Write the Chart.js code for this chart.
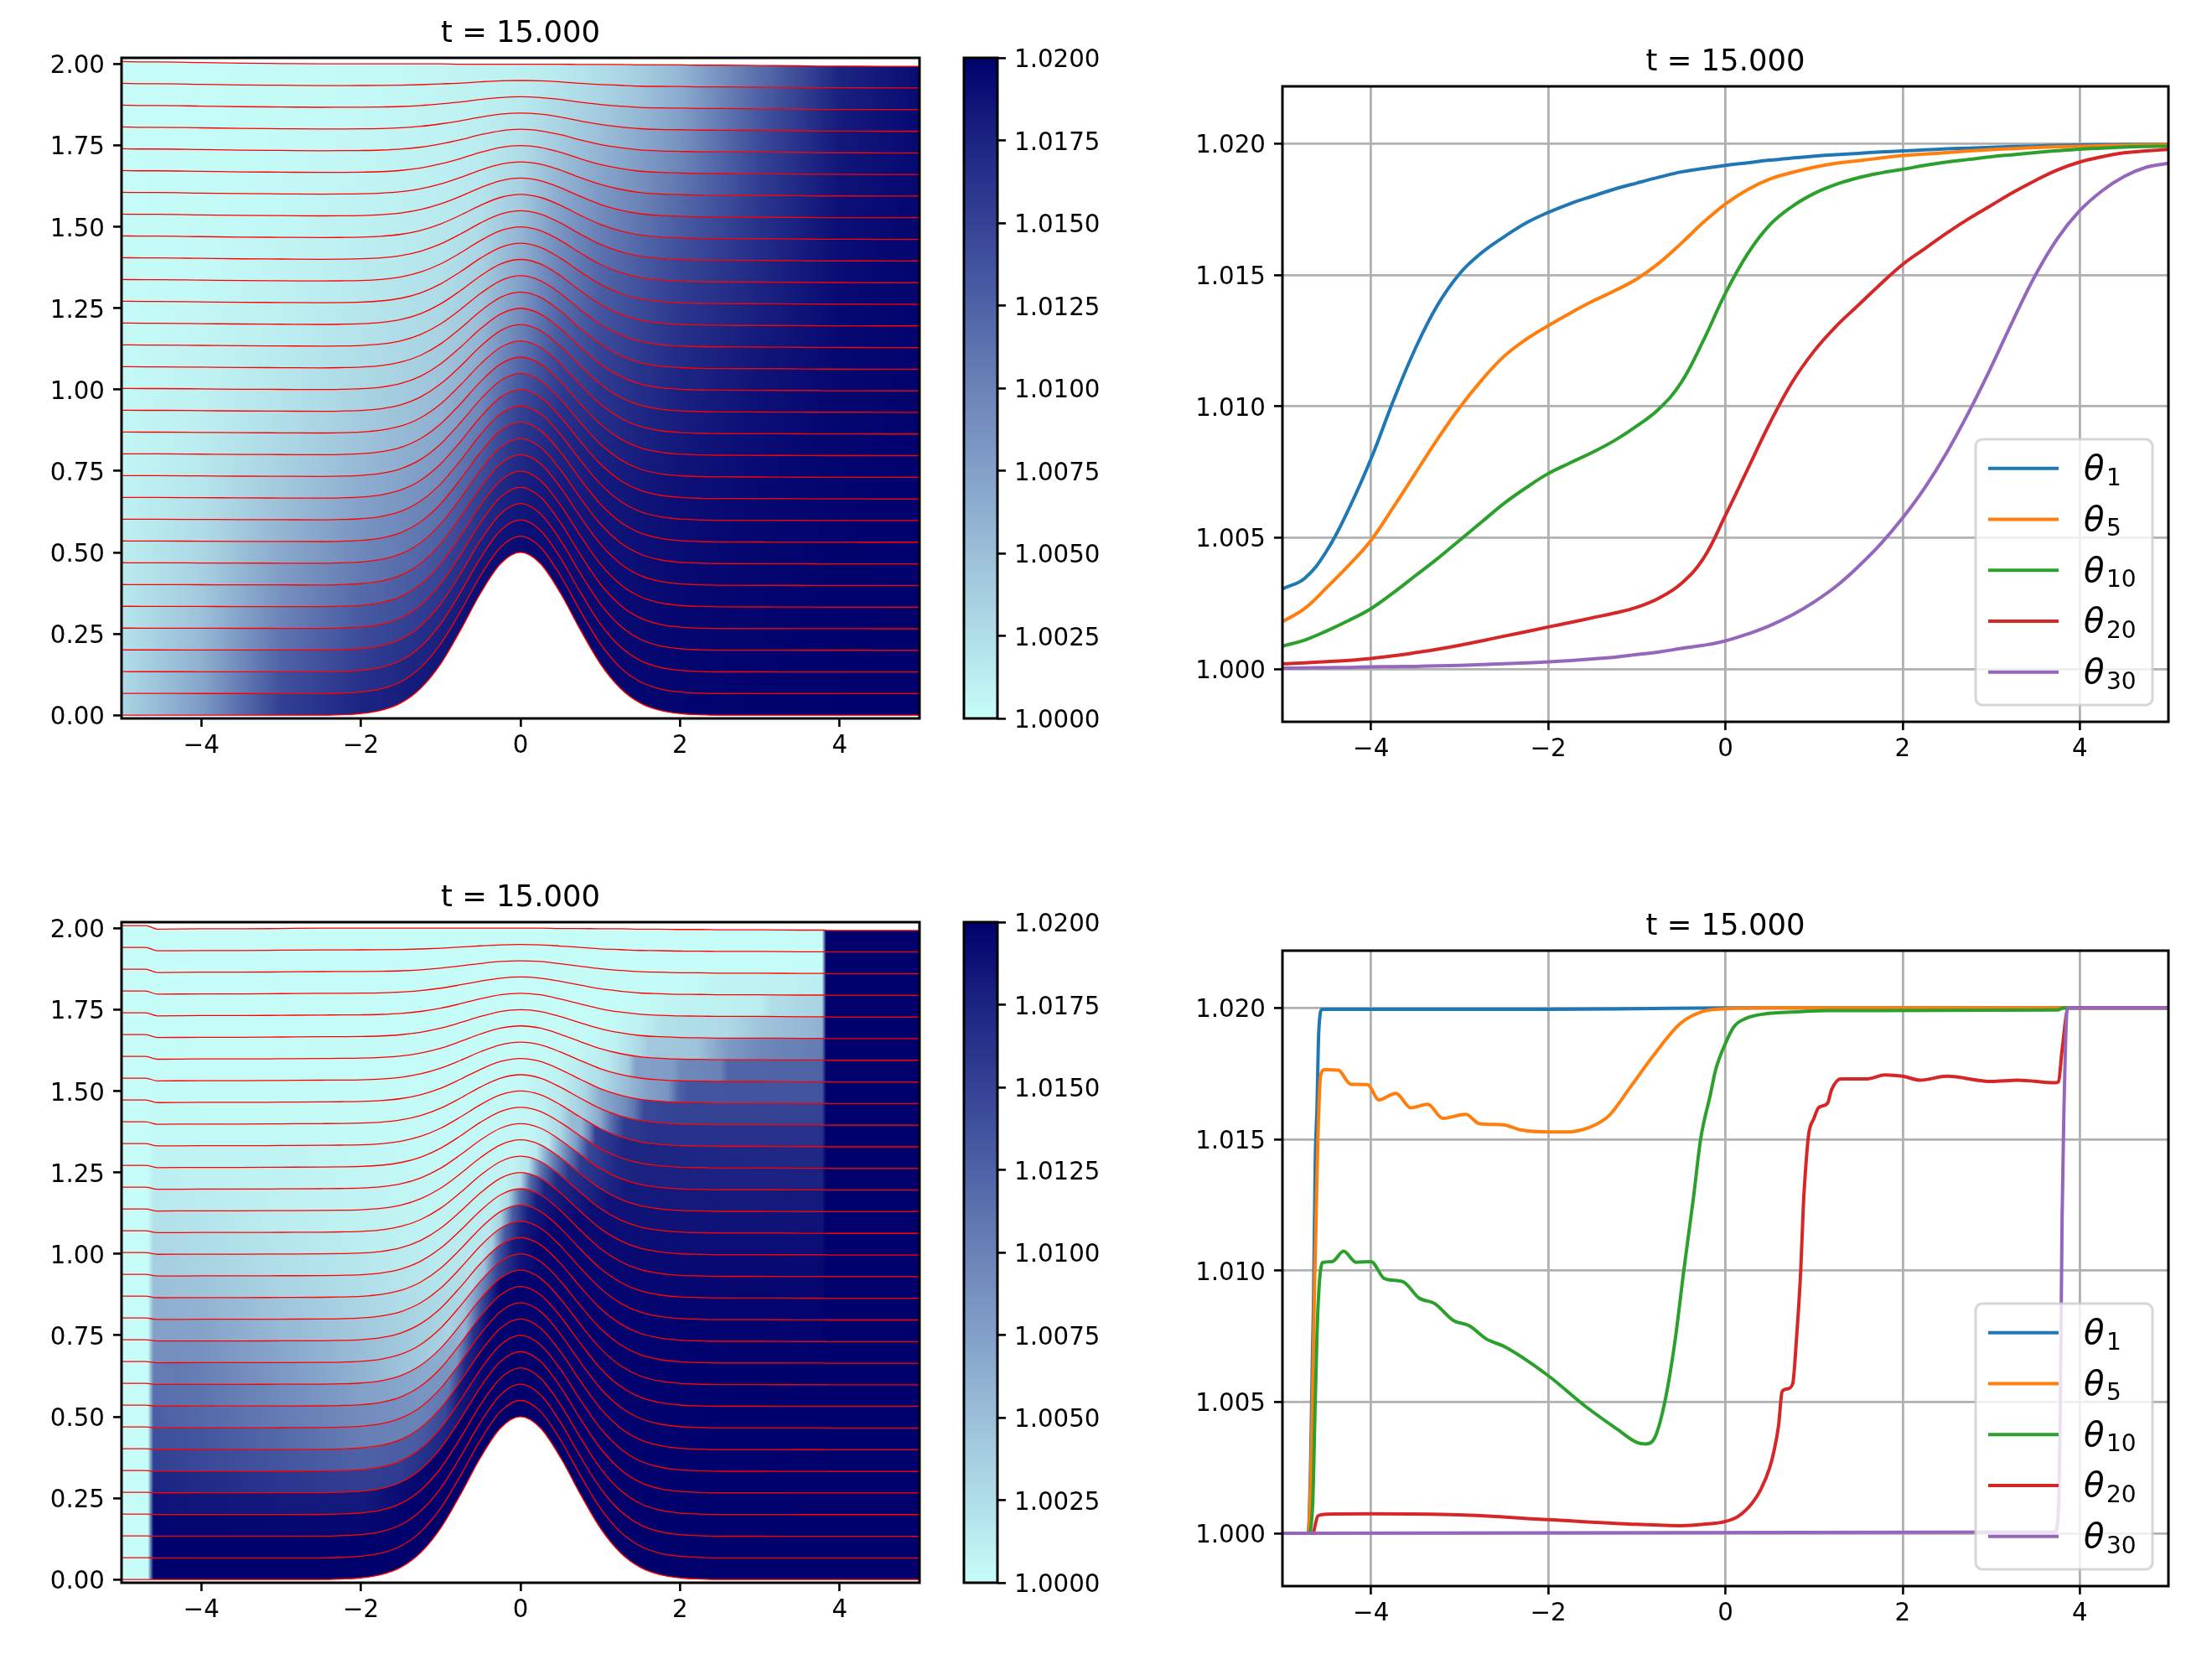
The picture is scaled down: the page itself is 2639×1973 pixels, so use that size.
<!DOCTYPE html>
<html>
<head>
<meta charset="utf-8">
<title>t = 15.000</title>
<script src="https://cdn.jsdelivr.net/npm/chart.js@4"></script>
<style>
  body { margin: 0; background: #fff; width: 2639px; height: 1973px; overflow: hidden; position: relative; }
  canvas { position: absolute; }
</style>
</head>
<body>
<script>
// all theta values below are (theta - 1) in units of 0.001

const titleText = "t = 15.000";
const xTicks = [-4, -2, 0, 2, 4];
const meshTicks = [0, 0.25, 0.5, 0.75, 1, 1.25, 1.5, 1.75, 2];
const thetaTicks = [1, 1.005, 1.01, 1.015, 1.02];
const colorbarTicks = [1, 1.0025, 1.005, 1.0075, 1.01, 1.0125, 1.015, 1.0175, 1.02];
const layerCount = 30;
const legendLayers = ["1", "5", "10", "20", "30"];
const curveColors = ["#1f77b4", "#ff7f0e", "#2ca02c", "#d62728", "#9467bd"];

// colormap, theta value then r, g, b
const cmapValues = [0, 2.5, 5, 7.5, 10, 12.5, 15, 17.5, 20];
const cmapColors = [
  [198, 253, 248], [176, 222, 232], [155, 191, 216], [130, 160, 200], [106, 131, 183],
  [78, 98, 166], [52, 66, 148], [28, 36, 130], [0, 0, 108]
];

// mesh
const meshX = [-5, -4.7, -4.55, -4, -3.5, -3, -2.5, -2.25, -2, -1.75, -1.5, -1.25, -1, -0.75, -0.5, -0.25, 0,
  0.25, 0.5, 0.75, 1, 1.25, 1.5, 1.75, 2, 2.25, 2.5, 3, 3.5, 3.8, 3.85, 4, 4.5, 5];
const bottomBump = [0, 0, 0, 0, 0, 0, 0, 0.0015, 0.005, 0.0148, 0.0375, 0.083, 0.158, 0.262, 0.375, 0.465, 0.5,
  0.465, 0.375, 0.262, 0.158, 0.083, 0.0375, 0.0148, 0.005, 0.0015, 0, 0, 0, 0, 0, 0, 0, 0];
const surfaceTop = [2.007, 2.006, 2.006, 2.004, 2.002, 2.001, 2, 2, 2, 2, 2, 2, 2, 1.999, 1.999, 1.999, 1.999,
  1.999, 1.999, 1.998, 1.998, 1.998, 1.997, 1.997, 1.997, 1.996, 1.996, 1.995, 1.994, 1.993, 1.993, 1.993, 1.9925, 1.9925];
const surfaceBottom = [2.008, 2.008, 1.997, 1.998, 1.998, 1.999, 2, 2, 2, 2, 2, 2, 2, 2, 2, 2, 2,
  2, 1.999, 1.999, 1.998, 1.998, 1.997, 1.997, 1.996, 1.996, 1.995, 1.995, 1.994, 1.994, 1.993, 1.993, 1.993, 1.993];

// upper heat map, one row per layer from the bottom up
const heatXTop = [-5, -4, -3, -2, -1, -0.5, 0, 0.5, 1, 1.5, 2, 3, 4, 5];
const heatTop = [
  [3.1, 8, 15.2, 17.4, 18.5, 18.9, 19.2, 19.4, 19.5, 19.6, 19.7, 19.85, 19.93, 19.97],
  [2.7, 7, 13.8, 16.4, 17.8, 18.3, 18.8, 19.2, 19.4, 19.5, 19.65, 19.8, 19.9, 19.97],
  [2.4, 6.2, 12.4, 15.3, 17, 17.7, 18.4, 19, 19.3, 19.4, 19.6, 19.8, 19.9, 19.96],
  [2.1, 5.5, 11.1, 14.2, 15.9, 17, 18, 18.8, 19.2, 19.4, 19.55, 19.75, 19.9, 19.95],
  [1.8, 4.8, 9.9, 13.1, 14.8, 16.2, 17.7, 18.65, 19.1, 19.3, 19.55, 19.75, 19.9, 19.95],
  [1.6, 4.2, 8.8, 11.9, 13.7, 15.2, 17.1, 18.3, 18.9, 19.2, 19.4, 19.7, 19.88, 19.94],
  [1.4, 3.6, 7.8, 10.7, 12.6, 14.1, 16.5, 18, 18.7, 19, 19.3, 19.65, 19.86, 19.93],
  [1.2, 3.1, 6.8, 9.6, 11.4, 13, 15.8, 17.6, 18.5, 18.9, 19.2, 19.6, 19.84, 19.92],
  [1, 2.7, 5.8, 8.5, 10.3, 11.9, 15.1, 17.3, 18.3, 18.7, 19.1, 19.55, 19.82, 19.91],
  [0.87, 2.27, 4.9, 7.44, 9.2, 10.7, 14.3, 16.9, 18.1, 18.6, 19, 19.5, 19.8, 19.9],
  [0.7, 1.9, 4.2, 6.4, 8.1, 9.6, 13.3, 16.3, 17.7, 18.3, 18.8, 19.4, 19.75, 19.9],
  [0.6, 1.6, 3.5, 5.5, 7.1, 8.5, 12.2, 15.6, 17.2, 18, 18.6, 19.3, 19.7, 19.88],
  [0.5, 1.35, 3, 4.7, 6.2, 7.5, 11.2, 14.9, 16.7, 17.6, 18.3, 19.2, 19.65, 19.87],
  [0.45, 1.1, 2.5, 4, 5.4, 6.6, 10.1, 14.1, 16.1, 17.2, 18, 19, 19.6, 19.86],
  [0.4, 0.95, 2.1, 3.4, 4.7, 5.8, 9.2, 13.3, 15.5, 16.7, 17.7, 18.9, 19.55, 19.85],
  [0.35, 0.8, 1.8, 2.9, 4, 5.1, 8.3, 12.5, 14.9, 16.2, 17.3, 18.7, 19.5, 19.84],
  [0.3, 0.7, 1.5, 2.5, 3.5, 4.5, 7.5, 11.6, 14.2, 15.6, 16.9, 18.5, 19.45, 19.82],
  [0.27, 0.6, 1.25, 2.1, 3.1, 4, 6.9, 10.8, 13.5, 15, 16.4, 18.2, 19.4, 19.8],
  [0.23, 0.5, 1.05, 1.85, 2.7, 3.6, 6.3, 10.1, 12.9, 14.4, 15.9, 17.9, 19.35, 19.78],
  [0.2, 0.4, 0.9, 1.6, 2.35, 3.2, 5.85, 9.35, 12.2, 13.8, 15.4, 17.5, 19.3, 19.75],
  [0.17, 0.35, 0.75, 1.35, 2.05, 2.8, 5, 8.5, 11.3, 13, 14.7, 17.2, 19.2, 19.7],
  [0.14, 0.3, 0.62, 1.15, 1.75, 2.4, 4.2, 7.6, 10.3, 12.1, 13.9, 16.8, 19.1, 19.65],
  [0.12, 0.25, 0.52, 0.95, 1.5, 2.05, 3.6, 6.7, 9.2, 11.1, 13, 16.4, 19, 19.6],
  [0.1, 0.2, 0.44, 0.8, 1.3, 1.75, 3.1, 5.8, 8.1, 10, 12, 15.9, 18.9, 19.55],
  [0.09, 0.17, 0.37, 0.68, 1.15, 1.55, 2.6, 4.9, 7, 8.9, 10.9, 15.4, 18.7, 19.5],
  [0.07, 0.14, 0.3, 0.58, 1, 1.4, 2.2, 4.1, 5.9, 7.8, 9.8, 14.9, 18.5, 19.45],
  [0.06, 0.12, 0.25, 0.47, 0.85, 1.2, 1.85, 3.4, 4.9, 6.7, 8.7, 14.3, 18.3, 19.4],
  [0.05, 0.1, 0.2, 0.38, 0.72, 1.05, 1.55, 2.8, 4, 5.6, 7.6, 13.5, 18.1, 19.35],
  [0.04, 0.09, 0.17, 0.32, 0.62, 0.9, 1.3, 2.1, 3.2, 4.6, 6.6, 12.6, 17.8, 19.3],
  [0.03, 0.08, 0.14, 0.27, 0.55, 0.8, 1.07, 1.6, 2.5, 3.8, 5.7, 11.6, 17.45, 19.2]
];

// lower heat map, [x, theta] breakpoints per layer between the two fronts
const heatFrontLeft = [[-5, 0], [-4.67, 0]];
const heatFrontRight = [[3.83, 20], [5, 20]];
const heatBottom = [
  [[-4.6, 20], [3.78, 20]],
  [[-4.6, 19.9], [3.78, 20]],
  [[-4.6, 19.6], [-2, 19.4], [-1.3, 20], [3.78, 20]],
  [[-4.6, 18.6], [-3, 18.3], [-2, 18.2], [-1.3, 19.5], [-0.9, 20], [3.78, 20]],
  [[-4.6, 17.4], [-4.2, 17.1], [-3.7, 16.7], [-3, 15.9], [-2, 15.3], [-1.5, 15.5], [-1, 17.2], [-0.5, 19.4], [-0.2, 19.9], [3.78, 20]],
  [[-4.6, 15.2], [-4, 14.5], [-3, 13.5], [-2, 12.5], [-1.3, 13], [-0.95, 14.5], [-0.75, 18.5], [-0.5, 19.8], [3.78, 20]],
  [[-4.6, 14], [-4, 13.5], [-3, 12], [-2, 10.3], [-1.3, 10], [-0.9, 11], [-0.7, 17], [-0.4, 19.8], [3.78, 20]],
  [[-4.6, 12.8], [-4, 12], [-3, 10.5], [-2, 9.2], [-1.2, 8.5], [-0.8, 8.5], [-0.6, 16], [-0.35, 19.8], [3.78, 20]],
  [[-4.6, 11.5], [-4, 11.2], [-3, 9.3], [-2, 7.5], [-1, 6.5], [-0.7, 6], [-0.5, 14], [-0.25, 19.7], [3.78, 20]],
  [[-4.6, 10.4], [-4.3, 10.7], [-4, 10.3], [-3.3, 8.8], [-2.5, 7.1], [-2, 6], [-1.2, 4], [-0.9, 3.4], [-0.7, 4.5], [-0.45, 10.5], [-0.28, 15], [0, 18.6], [0.23, 19.6], [1, 19.9], [3.78, 19.95]],
  [[-4.6, 9], [-4, 8.8], [-3, 7], [-2, 5.2], [-1, 3.4], [-0.6, 2.8], [-0.45, 5], [-0.3, 13], [-0.1, 18], [0.2, 19.7], [3.78, 19.9]],
  [[-4.6, 7.5], [-4, 7.3], [-3, 5.5], [-2, 4.2], [-1, 2.8], [-0.5, 2], [-0.35, 4], [-0.2, 13], [0, 18], [0.3, 19.7], [3.78, 19.8]],
  [[-4.6, 6.3], [-4, 6], [-3, 4.5], [-2, 3.2], [-1, 2], [-0.4, 1.6], [-0.25, 3.5], [-0.1, 13], [0.1, 18], [0.4, 19.6], [3.78, 19.7]],
  [[-4.6, 5], [-4, 4.6], [-3, 3.3], [-2, 2.4], [-1, 1.5], [-0.3, 1.2], [-0.15, 3], [0, 12], [0.2, 18], [0.5, 19.5], [3.78, 19.5]],
  [[-4.6, 3.8], [-4, 3.4], [-3, 2.4], [-2, 1.8], [-1, 1.1], [-0.2, 0.9], [0, 2.5], [0.12, 12], [0.3, 17.5], [0.7, 19.3], [3.78, 19.3]],
  [[-4.6, 3], [-4, 2.7], [-3, 1.9], [-2, 1.2], [-1, 0.8], [-0.1, 0.7], [0.1, 2], [0.25, 11], [0.45, 17], [0.9, 19], [3.78, 19]],
  [[-4.6, 2.3], [-4, 2], [-3, 1.3], [-2, 0.9], [-1, 0.6], [0, 0.5], [0.2, 1.5], [0.4, 10], [0.6, 16], [1.1, 18.7], [3.78, 18.7]],
  [[-4.6, 1.6], [-4, 1.4], [-3, 1], [-2, 0.7], [-1, 0.45], [0.1, 0.5], [0.35, 1.5], [0.55, 9], [0.75, 15.5], [1.3, 18.2], [3.78, 18.2]],
  [[-4.6, 1.1], [-4, 1], [-3, 0.8], [-2, 0.6], [-1, 0.35], [0.2, 0.6], [0.5, 3], [0.7, 8], [0.85, 14.5], [1.2, 17.2], [1.6, 17.7], [3.78, 17.7]],
  [[-4.6, 0.66], [-4, 0.74], [-3, 0.7], [-2, 0.52], [-1, 0.34], [-0.5, 0.29], [0, 0.45], [0.3, 1.14], [0.5, 2.5], [0.64, 5.4], [0.76, 5.7], [0.86, 10], [0.94, 15.2], [1.15, 16.4], [1.3, 17.3], [1.8, 17.45], [3, 17.2], [3.78, 17.15]],
  [[-4.6, 0.4], [-3, 0.4], [-2, 0.3], [-0.5, 0.2], [0, 0.3], [0.5, 1.5], [0.8, 4], [1, 7], [1.15, 12], [1.3, 15.5], [1.6, 16.3], [3.78, 16.3]],
  [[-4.6, 0.25], [-2, 0.2], [0, 0.2], [0.5, 0.9], [0.8, 3], [1, 6.5], [1.3, 9], [1.42, 11], [1.55, 14.5], [2, 15], [3.78, 15]],
  [[-4.6, 0.15], [0, 0.1], [0.5, 0.5], [1, 2.5], [1.3, 5], [1.6, 7.5], [1.85, 8.5], [1.98, 12.5], [2.1, 13.5], [3.78, 13.7]],
  [[-4.6, 0.1], [0, 0.05], [0.7, 0.4], [1.1, 1.5], [1.35, 4], [1.45, 7.5], [1.9, 7.8], [2, 9.5], [2.5, 10], [2.6, 12.3], [3.78, 12.5]],
  [[-4.6, 0.05], [0.8, 0.2], [1.2, 1], [1.5, 3], [1.6, 4.2], [2.2, 4.6], [2.6, 8], [3, 9.5], [3.3, 10], [3.78, 10.5]],
  [[-4.6, 0], [1, 0.1], [1.5, 1], [1.8, 2.3], [2.6, 2.8], [3, 4.5], [3.5, 5.5], [3.78, 6]],
  [[-4.6, 0], [1.3, 0.1], [2, 0.8], [3, 1.2], [3.15, 2.5], [3.5, 3], [3.78, 3.3]],
  [[-4.6, 0], [2, 0.2], [2.55, 0.8], [3.3, 1], [3.78, 1.2]],
  [[-4.6, 0], [3.78, 0.05]],
  [[-4.6, 0], [3.78, 0]]
];

// upper right curves, one value every 0.25 in x
const curveXTop = [-5, -4.75, -4.5, -4.25, -4, -3.75, -3.5, -3.25, -3, -2.75, -2.5, -2.25, -2, -1.75, -1.5, -1.25, -1, -0.75, -0.5, -0.25,
  0, 0.25, 0.5, 0.75, 1, 1.25, 1.5, 1.75, 2, 2.25, 2.5, 2.75, 3, 3.25, 3.5, 3.75, 4, 4.25, 4.5, 4.75, 5];
const theta1Top = [3.05, 3.45, 4.5, 6.1, 8, 10.2, 12.2, 13.85, 15.05, 15.85, 16.45, 16.98, 17.38, 17.72, 18, 18.27, 18.5, 18.72, 18.92, 19.05,
  19.17, 19.27, 19.37, 19.45, 19.52, 19.58, 19.63, 19.68, 19.72, 19.76, 19.8, 19.83, 19.86, 19.89, 19.91, 19.93, 19.95, 19.96, 19.97, 19.97, 19.98];
const theta5Top = [1.8, 2.3, 3.1, 3.95, 4.9, 6.15, 7.45, 8.75, 9.95, 11, 11.9, 12.55, 13.07, 13.55, 14, 14.4, 14.85, 15.45, 16.2, 17,
  17.7, 18.25, 18.65, 18.9, 19.1, 19.25, 19.35, 19.45, 19.55, 19.6, 19.66, 19.72, 19.77, 19.81, 19.85, 19.88, 19.9, 19.92, 19.94, 19.95, 19.97];
const theta10Top = [0.87, 1.1, 1.45, 1.85, 2.3, 2.9, 3.55, 4.2, 4.9, 5.6, 6.3, 6.9, 7.44, 7.85, 8.25, 8.7, 9.25, 9.9, 10.9, 12.5,
  14.3, 15.8, 16.9, 17.6, 18.1, 18.45, 18.7, 18.88, 19.02, 19.17, 19.3, 19.4, 19.5, 19.58, 19.66, 19.73, 19.79, 19.83, 19.87, 19.89, 19.9];
const theta20Top = [0.2, 0.23, 0.28, 0.33, 0.4, 0.5, 0.62, 0.75, 0.9, 1.07, 1.25, 1.42, 1.6, 1.77, 1.95, 2.13, 2.35, 2.7, 3.25, 4.2,
  5.85, 7.6, 9.35, 10.9, 12.1, 13.05, 13.85, 14.65, 15.4, 16, 16.6, 17.15, 17.65, 18.15, 18.6, 19, 19.3, 19.5, 19.65, 19.72, 19.78];
const theta30Top = [0.03, 0.04, 0.05, 0.06, 0.08, 0.09, 0.1, 0.12, 0.14, 0.17, 0.2, 0.23, 0.27, 0.32, 0.38, 0.45, 0.55, 0.65, 0.78, 0.9,
  1.07, 1.33, 1.65, 2.05, 2.55, 3.15, 3.9, 4.75, 5.75, 6.9, 8.25, 9.8, 11.5, 13.3, 15, 16.4, 17.45, 18.2, 18.75, 19.1, 19.25];

// lower right curves, [x, theta]
const theta1Bottom = [[-5, 0], [-4.71, 0], [-4.68, 3], [-4.66, 7.1], [-4.65, 8.6], [-4.63, 14.1], [-4.61, 16.2], [-4.59, 19.1], [-4.55, 19.95], [-2, 19.95], [-1, 19.97], [0, 20], [5, 20]];
const theta5Bottom = [[-5, 0], [-4.71, 0], [-4.67, 3.5], [-4.64, 9], [-4.62, 12], [-4.6, 15], [-4.57, 17.4], [-4.525, 17.65], [-4.37, 17.63], [-4.23, 17.1], [-4.04, 17.08], [-3.91, 16.5], [-3.72, 16.75], [-3.55, 16.2], [-3.36, 16.33], [-3.19, 15.8], [-2.93, 15.95], [-2.78, 15.6], [-2.51, 15.55], [-2.3, 15.35], [-2, 15.28], [-1.79, 15.28], [-1.53, 15.46], [-1.32, 15.88], [-1.07, 17], [-0.81, 18.2], [-0.51, 19.4], [-0.26, 19.86], [0, 19.97], [0.5, 20], [5, 20]];
const theta10Bottom = [[-5, 0], [-4.71, 0], [-4.66, 1], [-4.63, 5], [-4.6, 8.5], [-4.55, 10.3], [-4.44, 10.34], [-4.31, 10.74], [-4.17, 10.32], [-4, 10.34], [-3.85, 9.7], [-3.64, 9.58], [-3.46, 8.96], [-3.28, 8.74], [-3.07, 8.1], [-2.89, 7.9], [-2.7, 7.4], [-2.49, 7.1], [-2, 6], [-1.59, 4.86], [-1.22, 3.96], [-1, 3.46], [-0.9, 3.4], [-0.79, 3.7], [-0.68, 5.07], [-0.57, 7.3], [-0.47, 10], [-0.36, 12.8], [-0.28, 15], [-0.17, 16.7], [-0.11, 17.65], [0, 18.65], [0.1, 19.3], [0.23, 19.6], [0.44, 19.77], [0.86, 19.86], [1.15, 19.9], [3.75, 19.92], [3.82, 20], [5, 20]];
const theta20Bottom = [[-5, 0], [-4.66, 0], [-4.6, 0.66], [-4.5, 0.73], [-4, 0.74], [-3, 0.7], [-2, 0.52], [-1, 0.34], [-0.5, 0.29], [-0.25, 0.34], [0, 0.45], [0.15, 0.66], [0.3, 1.14], [0.4, 1.67], [0.5, 2.5], [0.55, 3.16], [0.6, 4.1], [0.64, 5.4], [0.7, 5.5], [0.76, 5.7], [0.8, 7.3], [0.85, 10], [0.88, 12.5], [0.91, 14.1], [0.94, 15.2], [1, 15.8], [1.05, 16.2], [1.15, 16.36], [1.2, 16.9], [1.3, 17.3], [1.6, 17.3], [1.8, 17.45], [2, 17.4], [2.2, 17.25], [2.5, 17.4], [3, 17.2], [3.3, 17.25], [3.72, 17.15], [3.76, 17.2], [3.8, 18.4], [3.87, 20], [5, 20]];
const theta30Bottom = [[-5, 0], [3.72, 0.05], [3.76, 1], [3.78, 5], [3.8, 12], [3.82, 16], [3.86, 20], [5, 20]];

const FONT = "'DejaVu Sans'";
const TICK_SIZE = 29.3;
const TICK_LEN = 10;
const TITLE_SIZE = 35.4;
const TITLE_GAP = 7;
const TITLE_ROOM = TITLE_SIZE * 1.2 + TITLE_GAP;
const MARGIN = 140; // room around each axes box inside its canvas
Chart.defaults.font.family = FONT;
Chart.defaults.color = "#000";

function thetaColor(v) {
  let i = 0;
  while (i < cmapValues.length - 2 && v > cmapValues[i + 1]) i++;
  const t = Math.min(1, Math.max(0, (v - cmapValues[i]) / (cmapValues[i + 1] - cmapValues[i])));
  const c = cmapColors[i].map((a, j) => Math.round(a + (cmapColors[i + 1][j] - a) * t));
  return `rgb(${c[0]},${c[1]},${c[2]})`;
}

// box around the axes and the legend, both on top of the data
const framePlugin = {
  id: "frame",
  afterDatasetsDraw(chart) {
    const { left, top, width, height, right, bottom } = chart.chartArea;
    const ctx = chart.ctx;
    ctx.save();
    const legend = chart.options.plugins.frame.legend;
    if (legend) {
      const bx = right - 230, by = bottom - 337, bw = 211, bh = 317;
      ctx.beginPath();
      ctx.roundRect(bx, by, bw, bh, 8);
      ctx.fillStyle = "rgba(255,255,255,0.8)";
      ctx.fill();
      ctx.lineWidth = 3;
      ctx.strokeStyle = "rgba(204,204,204,0.8)";
      ctx.stroke();
      legendLayers.forEach((label, i) => {
        const y = by + 34.7 + i * 60.75;
        ctx.strokeStyle = curveColors[i];
        ctx.lineWidth = 4;
        ctx.beginPath();
        ctx.moveTo(bx + 15, y);
        ctx.lineTo(bx + 99, y);
        ctx.stroke();
        ctx.fillStyle = "#000";
        ctx.textBaseline = "alphabetic";
        ctx.textAlign = "left";
        ctx.font = `italic 40px ${FONT}`;
        ctx.fillText("θ", bx + 129, y + 13.5);
        ctx.font = `28px ${FONT}`;
        ctx.fillText(label, bx + 156, y + 20);
      });
    }
    ctx.lineWidth = 3;
    ctx.strokeStyle = "#000";
    ctx.strokeRect(left, top, width, height);
    ctx.restore();
  }
};

function addCanvas(box) {
  const c = document.createElement("canvas");
  c.width = box.right - box.left + MARGIN * 2;
  c.height = box.bottom - box.top + MARGIN * 2;
  c.style.left = (box.left - MARGIN) + "px";
  c.style.top = (box.top - MARGIN) + "px";
  c.style.width = c.width + "px";
  c.style.height = c.height + "px";
  document.body.appendChild(c);
  return c;
}

function tickValues(list) {
  return scale => { scale.ticks = list.map(v => ({ value: v })); };
}

function xAxis(gridOn) {
  return {
    type: "linear", min: -5, max: 5,
    afterBuildTicks: tickValues(xTicks),
    afterFit: s => { s.height = MARGIN; },
    grid: {
      drawOnChartArea: gridOn, color: "#b0b0b0", lineWidth: 2.8,
      tickColor: "#000", tickWidth: 2.6, tickLength: TICK_LEN
    },
    border: { display: false },
    ticks: {
      autoSkip: false, maxRotation: 0, padding: 6,
      font: { size: TICK_SIZE },
      callback: v => String(v).replace("-", "\u2212")
    }
  };
}

function yAxis(min, max, list, digits, gridOn, position) {
  return {
    type: "linear", min, max, position: position || "left",
    afterBuildTicks: tickValues(list),
    afterFit: s => { s.width = MARGIN; },
    grid: {
      drawOnChartArea: gridOn, color: "#b0b0b0", lineWidth: 2.8,
      tickColor: "#000", tickWidth: 2.6, tickLength: TICK_LEN
    },
    border: { display: false },
    ticks: {
      autoSkip: false, padding: 10,
      // the empty first line with a small line height centres the digits on the tick
      font: { size: TICK_SIZE, lineHeight: 0.24 },
      callback: v => ["", v.toFixed(digits)]
    }
  };
}

function titleOptions() {
  return {
    display: true, text: titleText, color: "#000", fullSize: false,
    font: { size: TITLE_SIZE, weight: "normal", lineHeight: 1.2 },
    padding: { top: 0, bottom: TITLE_GAP }
  };
}

function meshChart(box, surface, bandColor) {
  const datasets = [];
  for (let k = 0; k <= layerCount; k++) {
    datasets.push({
      data: meshX.map((x, i) => ({ x, y: bottomBump[i] + (surface[i] - bottomBump[i]) * k / layerCount })),
      borderColor: "#ff0000",
      borderWidth: 1.3,
      pointRadius: 0,
      cubicInterpolationMode: "monotone",
      fill: k === 0 ? false : "-1",
      backgroundColor: k === 0 ? "transparent" : ctx => bandColor(ctx.chart, k - 1)
    });
  }
  new Chart(addCanvas(box), {
    type: "line",
    data: { datasets },
    plugins: [framePlugin],
    options: {
      responsive: false, animation: false, devicePixelRatio: 1,
      layout: { padding: { top: MARGIN - TITLE_ROOM, right: MARGIN } },
      plugins: { legend: { display: false }, tooltip: { enabled: false }, title: titleOptions(), frame: {} },
      scales: { x: xAxis(false), y: yAxis(-0.0098, 2.0185, meshTicks, 2, false) }
    }
  });
}

// one horizontal gradient per layer, cached per chart; the scales have no size
// until the first layout has run, so nothing is cached before that
function gradientMaker(stopsForLayer) {
  const cache = new Map();
  return (chart, layer) => {
    if (cache.has(layer)) return cache.get(layer);
    if (!chart.chartArea) return "transparent";
    const xs = chart.scales.x;
    const x0 = xs.getPixelForValue(-5), x1 = xs.getPixelForValue(5);
    if (!isFinite(x0) || !isFinite(x1)) return "transparent";
    const g = chart.ctx.createLinearGradient(x0, 0, x1, 0);
    stopsForLayer(layer).forEach(([x, v]) => g.addColorStop((x + 5) / 10, thetaColor(v)));
    cache.set(layer, g);
    return g;
  };
}

function curveChart(box, series, shape) {
  new Chart(addCanvas(box), {
    type: "line",
    data: {
      datasets: series.map((points, i) => ({
        label: "θ" + legendLayers[i],
        data: points.map(([x, v]) => ({ x, y: 1 + v / 1000 })),
        borderColor: curveColors[i],
        borderWidth: 4,
        pointRadius: 0,
        order: series.length - i,
        ...shape
      }))
    },
    plugins: [framePlugin],
    options: {
      responsive: false, animation: false, devicePixelRatio: 1,
      layout: { padding: { top: MARGIN - TITLE_ROOM, right: MARGIN } },
      plugins: { legend: { display: false }, tooltip: { enabled: false }, title: titleOptions(), frame: { legend: true } },
      scales: { x: xAxis(true), y: yAxis(0.99799, 1.02218, thetaTicks, 3, true) }
    }
  });
}

function colorbarChart(box) {
  new Chart(addCanvas(box), {
    type: "bar",
    data: {
      labels: [""],
      datasets: [{
        data: [[1, 1.02]],
        barPercentage: 1,
        categoryPercentage: 1,
        backgroundColor: ctx => {
          const ys = ctx.chart.scales.y;
          const y0 = ys.getPixelForValue(1), y1 = ys.getPixelForValue(1.02);
          if (!isFinite(y0) || !isFinite(y1)) return "transparent";
          const g = ctx.chart.ctx.createLinearGradient(0, y0, 0, y1);
          cmapValues.forEach(v => g.addColorStop(v / 20, thetaColor(v)));
          return g;
        }
      }]
    },
    plugins: [framePlugin],
    options: {
      responsive: false, animation: false, devicePixelRatio: 1,
      layout: { padding: { top: MARGIN, bottom: MARGIN, left: MARGIN } },
      plugins: { legend: { display: false }, tooltip: { enabled: false }, frame: {} },
      scales: {
        x: { display: false },
        y: yAxis(1, 1.02, colorbarTicks, 4, false, "right")
      }
    }
  });
}

const zip = (xs, ys) => xs.map((x, i) => [x, ys[i]]);

meshChart({ left: 145, right: 1097, top: 69, bottom: 857 }, surfaceTop,
  gradientMaker(layer => zip(heatXTop, heatTop[layer])));
meshChart({ left: 145, right: 1097, top: 1100, bottom: 1888 }, surfaceBottom,
  gradientMaker(layer => heatFrontLeft.concat(heatBottom[layer], heatFrontRight)));

colorbarChart({ left: 1150, right: 1190, top: 69, bottom: 857 });
colorbarChart({ left: 1150, right: 1190, top: 1100, bottom: 1888 });

curveChart({ left: 1530, right: 2587, top: 103, bottom: 861 },
  [theta1Top, theta5Top, theta10Top, theta20Top, theta30Top].map(ys => zip(curveXTop, ys)),
  { tension: 0.4 });
curveChart({ left: 1530, right: 2587, top: 1134, bottom: 1892 },
  [theta1Bottom, theta5Bottom, theta10Bottom, theta20Bottom, theta30Bottom],
  { cubicInterpolationMode: "monotone" });
</script>
</body>
</html>
